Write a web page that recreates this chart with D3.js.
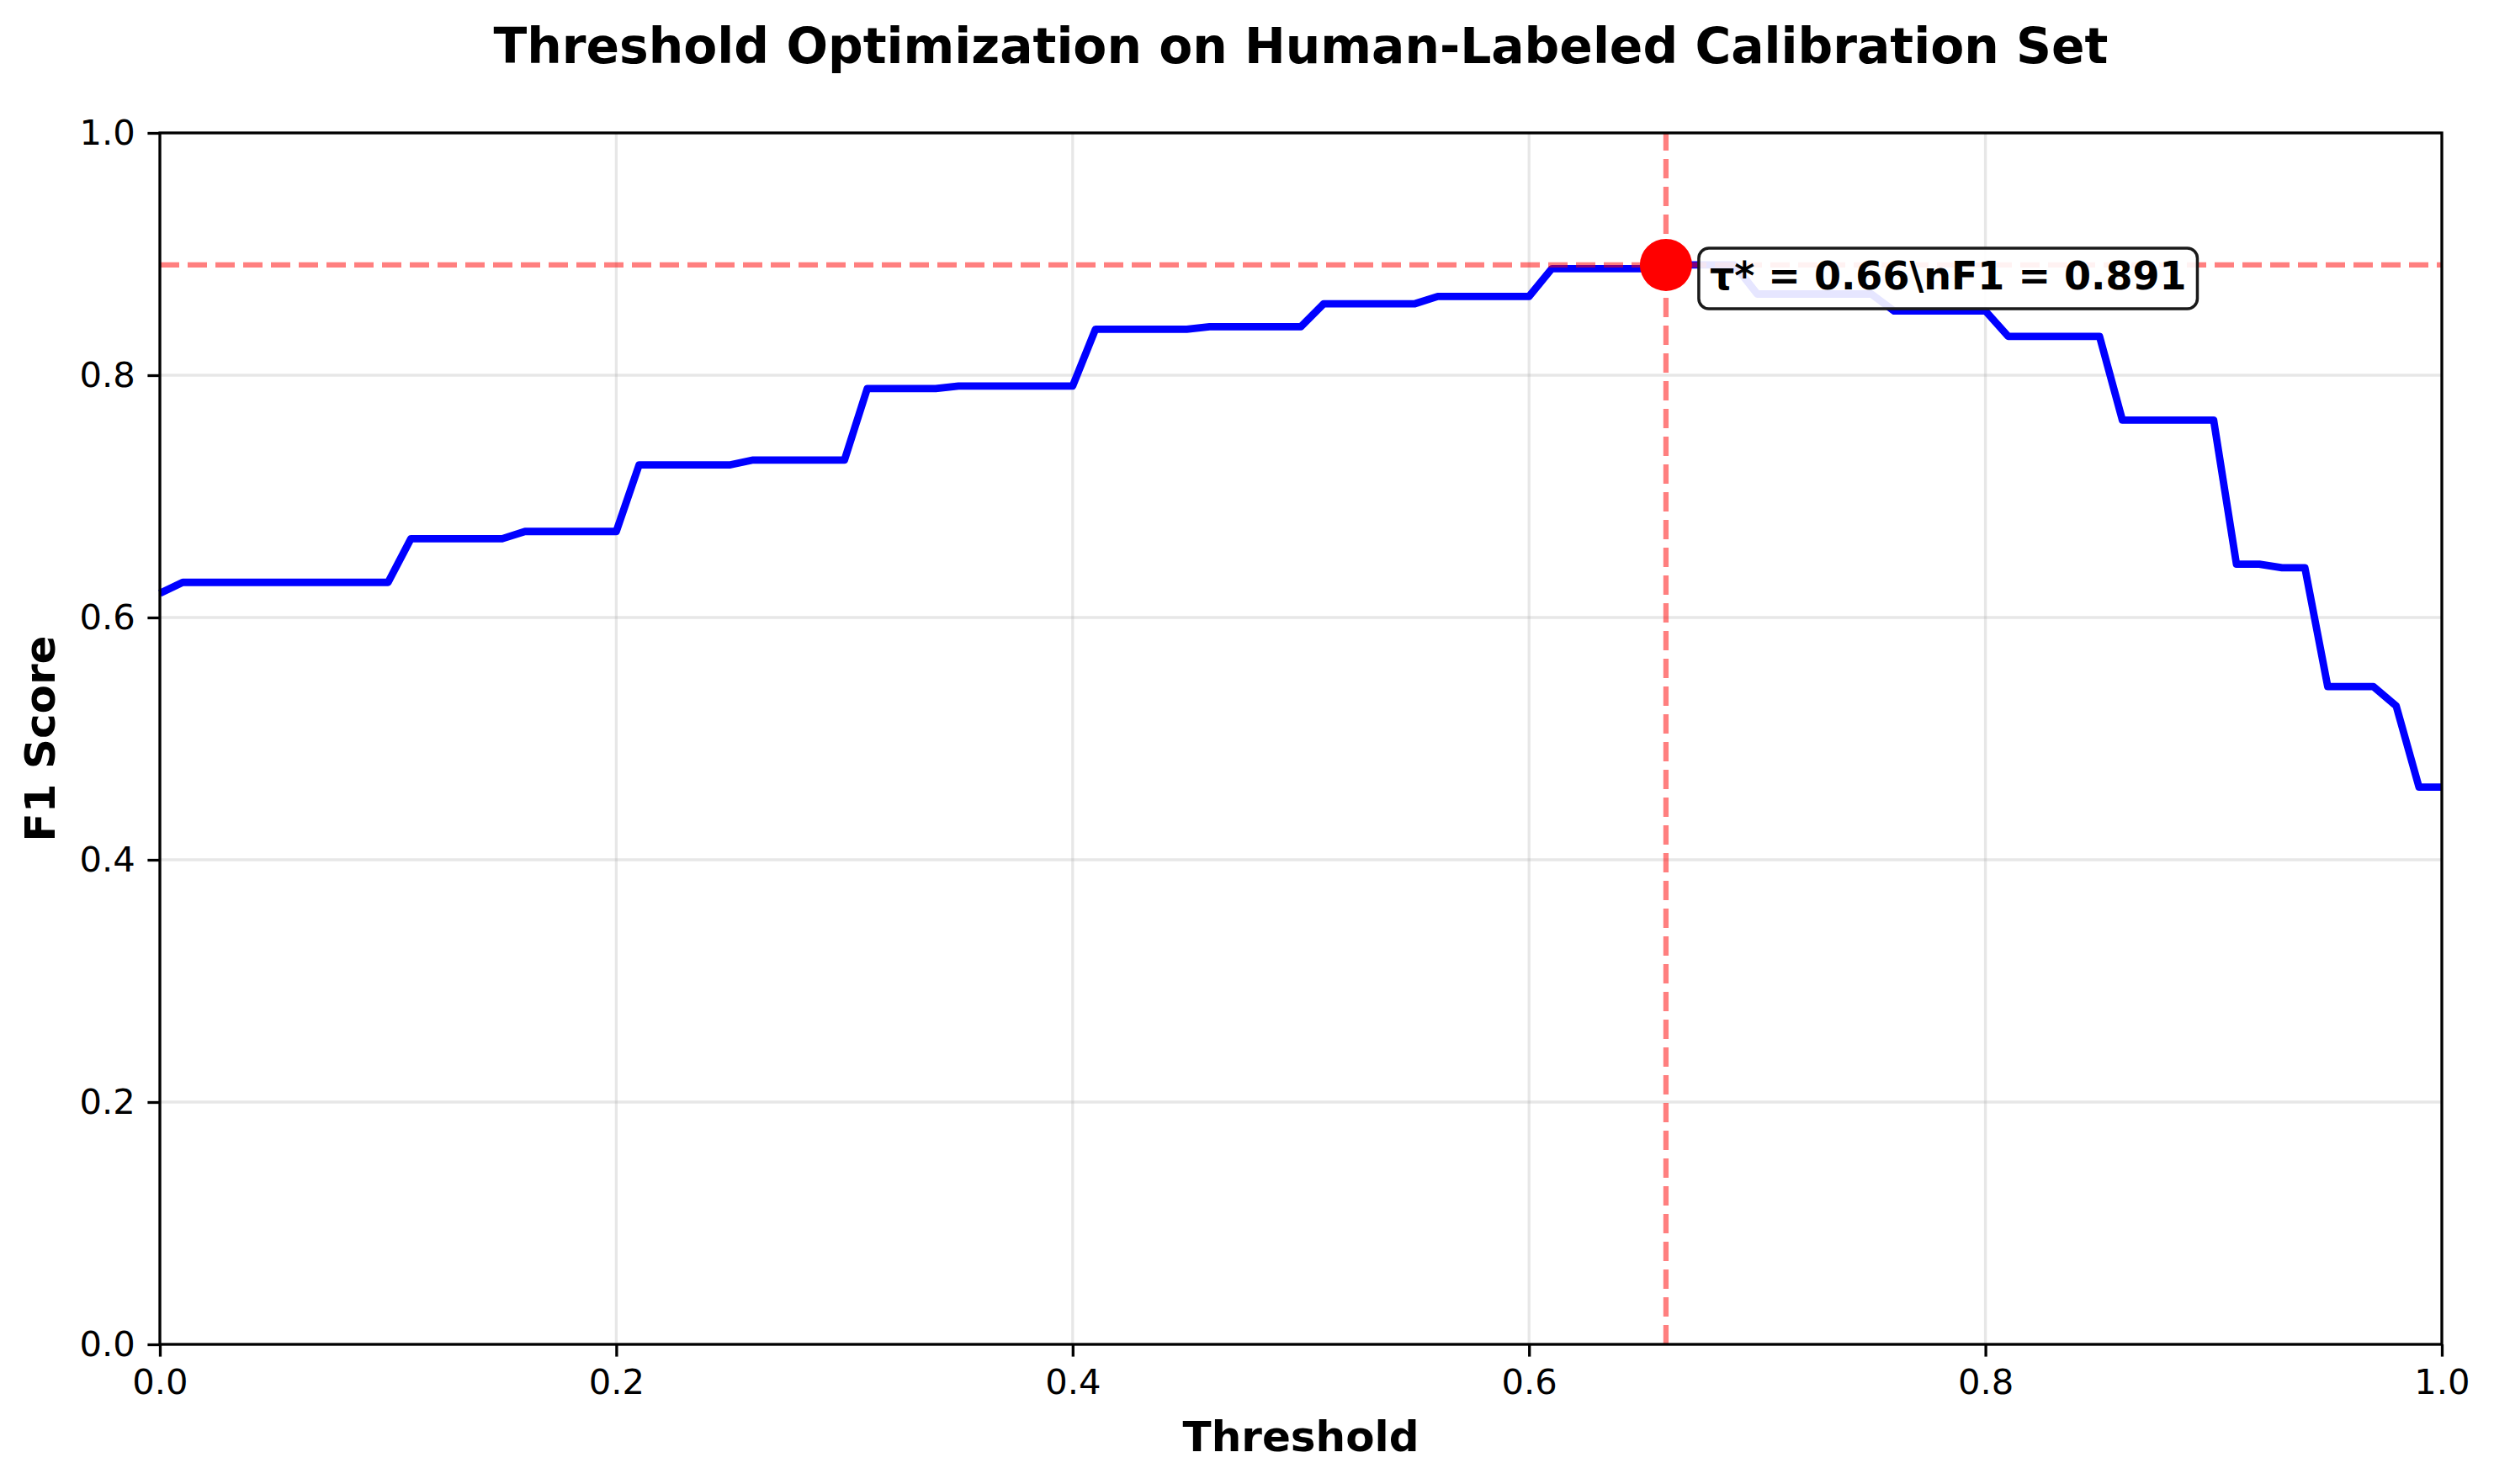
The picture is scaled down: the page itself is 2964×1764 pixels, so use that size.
<!DOCTYPE html>
<html>
<head>
<meta charset="utf-8">
<script src="https://cdn.jsdelivr.net/npm/d3@7"></script>
<style>
  body { margin: 0; background: #fff; }
  text { font-family: "DejaVu Sans", sans-serif; }
</style>
</head>
<body>
<script>
var width = 2964;
var height = 1764;

// F1 score at each threshold 0.00 .. 1.00 (step 0.01)
var thresholds = d3.range(0, 101).map(function (i) { return i / 100; });
var f1Scores = [
  0.620, 0.629, 0.629, 0.629, 0.629, 0.629, 0.629, 0.629, 0.629, 0.629,
  0.629, 0.665, 0.665, 0.665, 0.665, 0.665, 0.671, 0.671, 0.671, 0.671,
  0.671, 0.726, 0.726, 0.726, 0.726, 0.726, 0.730, 0.730, 0.730, 0.730,
  0.730, 0.789, 0.789, 0.789, 0.789, 0.791, 0.791, 0.791, 0.791, 0.791,
  0.791, 0.838, 0.838, 0.838, 0.838, 0.838, 0.840, 0.840, 0.840, 0.840,
  0.840, 0.859, 0.859, 0.859, 0.859, 0.859, 0.865, 0.865, 0.865, 0.865,
  0.865, 0.888, 0.888, 0.888, 0.888, 0.888, 0.891, 0.891, 0.891, 0.891,
  0.867, 0.867, 0.867, 0.867, 0.867, 0.867, 0.853, 0.853, 0.853, 0.853,
  0.853, 0.832, 0.832, 0.832, 0.832, 0.832, 0.763, 0.763, 0.763, 0.763,
  0.763, 0.644, 0.644, 0.641, 0.641, 0.543, 0.543, 0.543, 0.527, 0.460,
  0.460
];
var bestT = 0.66;
var bestF1 = 0.891;
var tickValues = [0, 0.2, 0.4, 0.6, 0.8, 1.0];

var margin = {top: 158, right: 62, bottom: 166, left: 190};

var svg = d3.select("body").append("svg")
    .attr("width", width)
    .attr("height", height);

var x = d3.scaleLinear().domain([0, 1]).range([margin.left, width - margin.right]);
var y = d3.scaleLinear().domain([0, 1]).range([height - margin.bottom, margin.top]);

// grid
svg.append("g").selectAll("line").data(tickValues).enter().append("line")
    .attr("x1", function (d) { return x(d); }).attr("x2", function (d) { return x(d); })
    .attr("y1", y(0)).attr("y2", y(1))
    .attr("stroke", "#b0b0b0").attr("stroke-opacity", 0.3).attr("stroke-width", 3.3);
svg.append("g").selectAll("line").data(tickValues).enter().append("line")
    .attr("y1", function (d) { return y(d); }).attr("y2", function (d) { return y(d); })
    .attr("x1", x(0)).attr("x2", x(1))
    .attr("stroke", "#b0b0b0").attr("stroke-opacity", 0.3).attr("stroke-width", 3.3);

// curve
var line = d3.line()
    .x(function (d, i) { return x(thresholds[i]); })
    .y(function (d) { return y(d); });
svg.append("path")
    .datum(f1Scores)
    .attr("d", line)
    .attr("fill", "none")
    .attr("stroke", "blue")
    .attr("stroke-width", 8.8)
    .attr("stroke-linejoin", "round");

// reference lines
svg.append("line")
    .attr("x1", x(bestT)).attr("x2", x(bestT))
    .attr("y1", y(0)).attr("y2", y(1))
    .attr("stroke", "red").attr("stroke-opacity", 0.5)
    .attr("stroke-width", 6.25).attr("stroke-dasharray", "23,10");
svg.append("line")
    .attr("x1", x(0)).attr("x2", x(1))
    .attr("y1", y(bestF1)).attr("y2", y(bestF1))
    .attr("stroke", "red").attr("stroke-opacity", 0.5)
    .attr("stroke-width", 6.25).attr("stroke-dasharray", "23,10");

// best point
svg.append("circle")
    .attr("cx", x(bestT)).attr("cy", y(bestF1)).attr("r", 31)
    .attr("fill", "red");

// axes
var xAxis = svg.append("g")
    .attr("transform", "translate(0," + y(0) + ")")
    .call(d3.axisBottom(x).tickValues(tickValues).tickFormat(d3.format(".1f"))
        .tickSize(14.6).tickPadding(14.6));
var yAxis = svg.append("g")
    .attr("transform", "translate(" + x(0) + ",0)")
    .call(d3.axisLeft(y).tickValues(tickValues).tickFormat(d3.format(".1f"))
        .tickSize(14.6).tickPadding(14.6));
[xAxis, yAxis].forEach(function (g) {
    g.select(".domain").remove();
    g.selectAll(".tick line").attr("stroke", "#000").attr("stroke-width", 3.3);
    g.selectAll(".tick text").attr("font-size", 41.7).attr("fill", "#000")
        .style("font-family", "DejaVu Sans");
});

// frame
svg.append("rect")
    .attr("x", x(0)).attr("y", y(1))
    .attr("width", x(1) - x(0)).attr("height", y(0) - y(1))
    .attr("fill", "none").attr("stroke", "#000").attr("stroke-width", 3.3);

// annotation
var note = svg.append("g");
var baseY = y(bestF1) + 29;
var noteText = note.append("text")
    .attr("x", x(bestT) + 52)
    .attr("y", baseY)
    .attr("font-size", 46)
    .attr("font-weight", "bold")
    .text("τ* = " + bestT.toFixed(2) + "\\nF1 = " + bestF1.toFixed(3));
var bb = noteText.node().getBBox();
note.insert("rect", "text")
    .attr("x", bb.x - 13).attr("y", baseY - 49)
    .attr("width", bb.width + 26).attr("height", 72)
    .attr("rx", 12)
    .attr("fill", "white").attr("fill-opacity", 0.9)
    .attr("stroke", "#1a1a1a").attr("stroke-width", 3.5);

// titles
svg.append("text")
    .attr("x", (x(0) + x(1)) / 2).attr("y", 75)
    .attr("text-anchor", "middle")
    .attr("font-size", 58.3).attr("font-weight", "bold")
    .text("Threshold Optimization on Human-Labeled Calibration Set");
svg.append("text")
    .attr("x", (x(0) + x(1)) / 2).attr("y", 1725)
    .attr("text-anchor", "middle")
    .attr("font-size", 50).attr("font-weight", "bold")
    .text("Threshold");
svg.append("text")
    .attr("transform", "translate(65," + (y(0) + y(1)) / 2 + ") rotate(-90)")
    .attr("text-anchor", "middle")
    .attr("font-size", 50).attr("font-weight", "bold")
    .text("F1 Score");
</script>
</body>
</html>
